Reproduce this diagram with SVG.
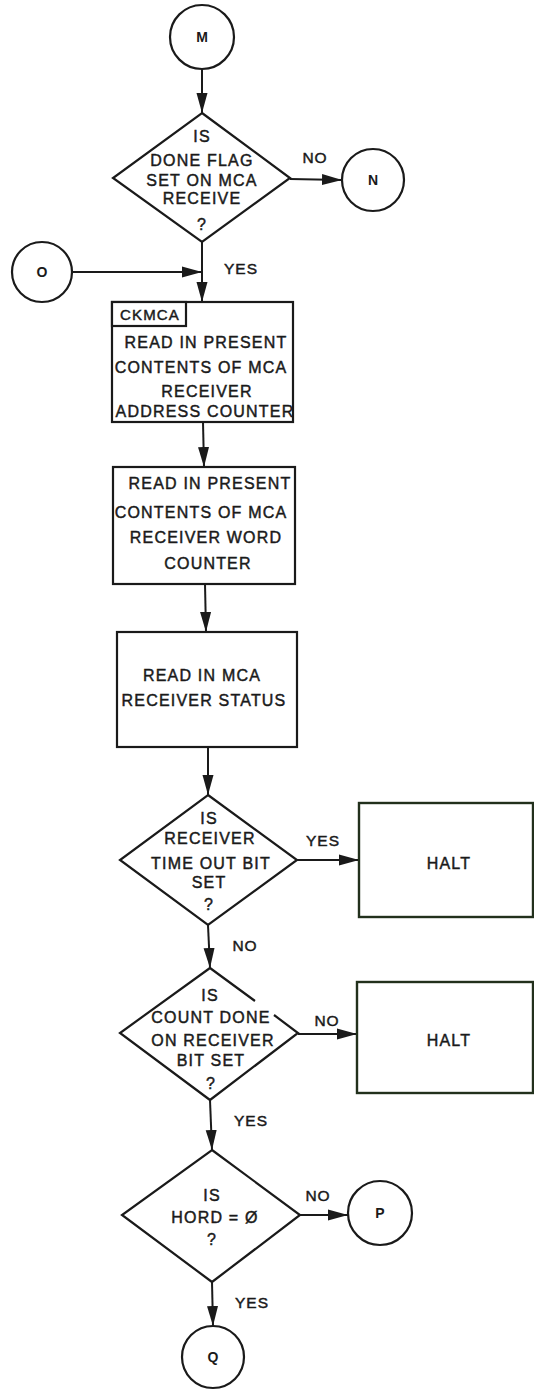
<svg xmlns="http://www.w3.org/2000/svg" width="534" height="1390" viewBox="0 0 534 1390">
<defs>
<style>
.bg{fill:#ffffff}
.s{fill:#ffffff;stroke:#1a1a1a;stroke-width:2.2}
.h{fill:#ffffff;stroke:#22301c;stroke-width:2.4}
.c{fill:none;stroke:#1a1a1a;stroke-width:2}
.t{font-family:"Liberation Sans",Arial,sans-serif;font-size:16px;letter-spacing:1.2px;fill:#1a1a1a;stroke:#1a1a1a;stroke-width:0.45;text-anchor:middle}
.k{font-family:"Liberation Sans",Arial,sans-serif;font-size:14px;font-weight:bold;fill:#1a1a1a;text-anchor:middle}
.l{font-family:"Liberation Sans",Arial,sans-serif;font-size:15.5px;letter-spacing:1px;fill:#1a1a1a;stroke:#1a1a1a;stroke-width:0.45;text-anchor:middle}
.ck{font-family:"Liberation Sans",Arial,sans-serif;font-size:15px;letter-spacing:1.2px;fill:#1a1a1a;stroke:#1a1a1a;stroke-width:0.45;text-anchor:middle}
</style>
<marker id="ah" markerUnits="userSpaceOnUse" markerWidth="20" markerHeight="12" refX="20" refY="6" orient="auto">
<path d="M0,0.5 L20,6 L0,11.5 z" fill="#1a1a1a"/>
</marker>
</defs>
<rect class="bg" x="0" y="0" width="534" height="1390"/>

<g id="connectors">
<line class="c" x1="202" y1="69" x2="202" y2="113" marker-end="url(#ah)"/>
<line class="c" x1="290" y1="179" x2="342" y2="180" marker-end="url(#ah)"/>
<line class="c" x1="72" y1="272" x2="202" y2="272" marker-end="url(#ah)"/>
<line class="c" x1="202" y1="242" x2="202" y2="302" marker-end="url(#ah)"/>
<line class="c" x1="203" y1="422" x2="204" y2="467" marker-end="url(#ah)"/>
<line class="c" x1="205" y1="584" x2="206" y2="632" marker-end="url(#ah)"/>
<line class="c" x1="208" y1="747" x2="208" y2="795" marker-end="url(#ah)"/>
<line class="c" x1="297" y1="860" x2="359" y2="860" marker-end="url(#ah)"/>
<line class="c" x1="208" y1="925" x2="210" y2="968" marker-end="url(#ah)"/>
<line class="c" x1="298" y1="1034" x2="357" y2="1034" marker-end="url(#ah)"/>
<line class="c" x1="210" y1="1100" x2="212" y2="1150" marker-end="url(#ah)"/>
<line class="c" x1="300" y1="1215" x2="348" y2="1215" marker-end="url(#ah)"/>
<line class="c" x1="212" y1="1282" x2="213" y2="1326" marker-end="url(#ah)"/>
<text class="l" x="315" y="163">NO</text>
<text class="l" x="241" y="274">YES</text>
<text class="l" x="323" y="846">YES</text>
<text class="l" x="245" y="951">NO</text>
<text class="l" x="327" y="1026">NO</text>
<text class="l" x="251" y="1126">YES</text>
<text class="l" x="318" y="1201">NO</text>
<text class="l" x="252" y="1308">YES</text>
</g>

<g id="M">
<circle class="s" cx="202" cy="37" r="32"/>
<text class="k" x="202" y="42">M</text>
</g>

<g id="done-flag">
<polygon class="s" points="202,113 290,178 202,242 113,178"/>
<text class="t" x="202" y="142">IS</text>
<text class="t" x="202" y="166">DONE FLAG</text>
<text class="t" x="202" y="186">SET ON MCA</text>
<text class="t" x="202" y="204">RECEIVE</text>
<text class="t" x="202" y="230">?</text>
</g>

<g id="N">
<circle class="s" cx="373" cy="180" r="31"/>
<text class="k" x="373" y="185">N</text>
</g>

<g id="O">
<circle class="s" cx="42" cy="272" r="30"/>
<text class="k" x="42" y="277">O</text>
</g>

<g id="ckmca">
<rect class="s" x="112" y="302" width="181" height="120"/>
<rect class="s" x="112" y="302" width="74" height="24"/>
<text class="ck" x="150" y="320">CKMCA</text>
<text class="t" x="206" y="348">READ IN PRESENT</text>
<text class="t" x="201" y="373">CONTENTS OF MCA</text>
<text class="t" x="207" y="397">RECEIVER</text>
<text class="t" x="205" y="417">ADDRESS COUNTER</text>
</g>

<g id="word-counter">
<rect class="s" x="113" y="467" width="182" height="117"/>
<text class="t" x="210" y="489">READ IN PRESENT</text>
<text class="t" x="201" y="518">CONTENTS OF MCA</text>
<text class="t" x="206" y="543">RECEIVER WORD</text>
<text class="t" x="208" y="569">COUNTER</text>
</g>

<g id="status">
<rect class="s" x="117" y="632" width="180" height="115"/>
<text class="t" x="202" y="681">READ IN MCA</text>
<text class="t" x="204" y="706">RECEIVER STATUS</text>
</g>

<g id="timeout">
<polygon class="s" points="208,795 297,860 208,925 120,860"/>
<text class="t" x="209" y="824">IS</text>
<text class="t" x="210" y="844">RECEIVER</text>
<text class="t" x="211" y="869">TIME OUT BIT</text>
<text class="t" x="209" y="888">SET</text>
<text class="t" x="209" y="910">?</text>
</g>

<g id="halt1">
<rect class="h" x="359" y="803" width="174" height="114"/>
<text class="t" x="449" y="869">HALT</text>
</g>

<g id="count-done">
<path class="s" d="M210,968 L120,1033 L210,1100 L298,1033 L274,1015 M255,1001 L210,968"/>
<text class="t" x="210" y="1001">IS</text>
<text class="t" x="211" y="1023">COUNT DONE</text>
<text class="t" x="213" y="1046">ON RECEIVER</text>
<text class="t" x="211" y="1066">BIT SET</text>
<text class="t" x="211" y="1089">?</text>
</g>

<g id="halt2">
<rect class="h" x="357" y="982" width="176" height="111"/>
<text class="t" x="449" y="1046">HALT</text>
</g>

<g id="hord">
<polygon class="s" points="212,1150 300,1215 212,1282 122,1215"/>
<text class="t" x="212" y="1201">IS</text>
<text class="t" x="215" y="1223">HORD = Ø</text>
<text class="t" x="212" y="1245">?</text>
</g>

<g id="P">
<circle class="s" cx="380" cy="1213" r="32"/>
<text class="k" x="380" y="1218">P</text>
</g>

<g id="Q">
<circle class="s" cx="213" cy="1357" r="31"/>
<text class="k" x="213" y="1362">Q</text>
</g>
</svg>
